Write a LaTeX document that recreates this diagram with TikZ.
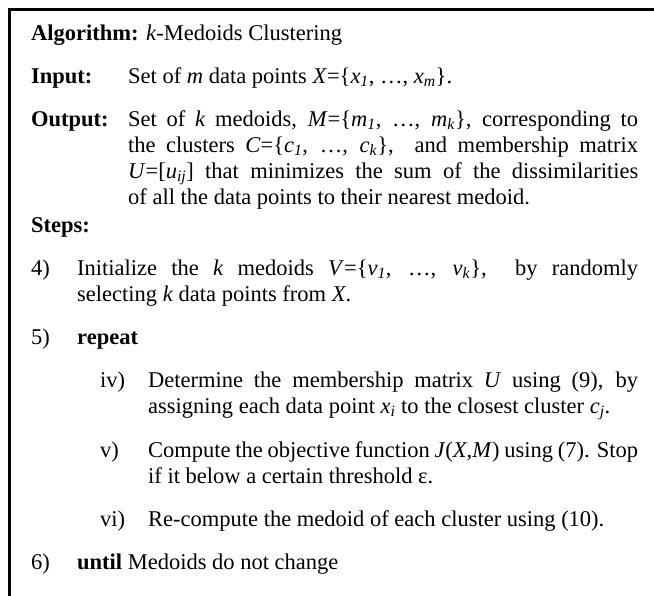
\documentclass[tikz,border=0pt]{standalone}
\usepackage{fontspec}
\setmainfont{Liberation Serif}
\newcommand\mainfs{\fontsize{22.5}{26}\selectfont}
\newcommand\mystrut{\rule{0pt}{19pt}}
\newcommand\isub[1]{\textsubscript{\textit{#1}}}
\tikzset{
  lbl/.style={anchor=north west, inner sep=0pt, font=\mainfs},
  para/.style={anchor=north west, inner sep=0pt, font=\mainfs, text width=#1, align=justify},
  frame/.style={line width=2.3pt, draw=black},
}
\begin{document}
\begin{tikzpicture}[x=1pt,y=1pt]
\useasboundingbox (0,0) rectangle (654,596);
\coordinate (tl) at (9.5,586.5);
\coordinate (tr) at (660,586.5);
\coordinate (bl) at (9.5,-5);
\draw[frame] (tr) -- (tl) -- (bl);

% header
\node[lbl] (alg) at (31,575) {\mystrut\textbf{Algorithm:} \textit{k}-Medoids Clustering};
\node[lbl] (inl) at (31,532) {\mystrut\textbf{Input:}};
\node[lbl] (int) at (128,532) {\mystrut Set of \textit{m} data points \textit{X}=\{\textit{x}\isub{1}, …, \textit{x}\isub{m}\}.};
\node[lbl] (outl) at (31,489) {\mystrut\textbf{Output:}};
\node[para=510pt] (outt) at (128,489) {\mystrut Set of \textit{k} medoids, \textit{M}=\{\textit{m}\isub{1}, …, \textit{m}\isub{k}\}, corresponding to\linebreak
the clusters \textit{C}=\{\textit{c}\isub{1}, …, \textit{c}\isub{k}\},\ \ and membership matrix\linebreak
\textit{U}=[\textit{u}\isub{ij}] that minimizes the sum of the dissimilarities\linebreak
of all the data points to their nearest medoid.};
\node[lbl] (steps) at (31,383) {\mystrut\textbf{Steps:}};

% step 4
\node[lbl] (s4l) at (31,340) {\mystrut 4)};
\node[para=561pt] (s4t) at (77,340) {\mystrut Initialize the \textit{k} medoids \textit{V}=\{\textit{v}\isub{1}, …, \textit{v}\isub{k}\},\ \ by randomly\linebreak
selecting \textit{k} data points from \textit{X}.};

% step 5
\node[lbl] (s5l) at (31,270.5) {\mystrut 5)};
\node[lbl] (s5t) at (77,270.5) {\mystrut\textbf{repeat}};

% iv
\node[lbl] (ivl) at (100,227.5) {\mystrut iv)};
\node[para=490pt] (ivt) at (148,227.5) {\mystrut Determine the membership matrix \textit{U} using (9), by\linebreak
assigning each data point \textit{x}\isub{i} to the closest cluster \textit{c}\isub{j}.};

% v
\node[lbl] (vl) at (100,158) {\mystrut v)};
\node[para=490pt] (vt) at (148,158) {\mystrut Compute the objective function \textit{J}(\textit{X},\textit{M}) using (7). Stop\linebreak
if it below a certain threshold ε.};

% vi
\node[lbl] (vil) at (100,88.5) {\mystrut vi)};
\node[lbl] (vit) at (148,88.5) {\mystrut Re-compute the medoid of each cluster using (10).};

% step 6
\node[lbl] (s6l) at (31,45.5) {\mystrut 6)};
\node[lbl] (s6t) at (77,45.5) {\mystrut\textbf{until} Medoids do not change};
\end{tikzpicture}
\end{document}
